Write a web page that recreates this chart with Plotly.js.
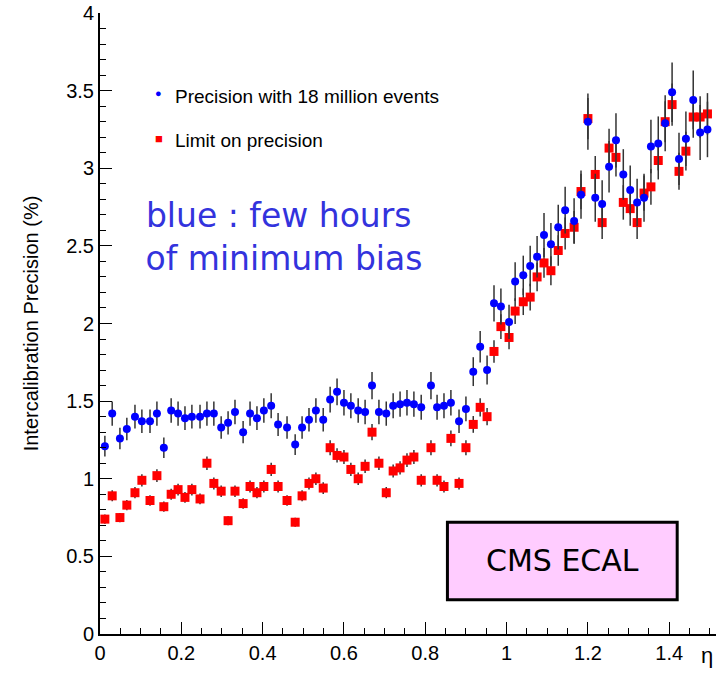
<!DOCTYPE html>
<html>
<head>
<script src="https://cdn.plot.ly/plotly-3.0.1.min.js"></script>
<style>body{margin:0;background:#fff}</style>
</head>
<body>
<div id="chart" style="width:728px;height:688px"></div>
<script>
// crystal eta positions
const eta = [0.012,0.030,0.049,0.066,0.086,0.103,0.123,0.140,0.157,0.175,0.192,0.209,0.226,0.246,0.263,0.280,0.298,0.315,0.332,0.352,
  0.369,0.386,0.403,0.421,0.438,0.460,0.480,0.497,0.514,0.531,0.549,0.566,0.583,0.600,0.617,0.635,0.652,0.669,0.686,0.704,
  0.721,0.738,0.755,0.772,0.790,0.814,0.829,0.846,0.863,0.883,0.900,0.918,0.935,0.952,0.969,0.986,1.006,1.021,1.041,1.058,
  1.075,1.092,1.109,1.127,1.144,1.166,1.183,1.200,1.218,1.235,1.252,1.269,1.287,1.304,1.321,1.338,1.355,1.373,1.390,1.407,
  1.424,1.441,1.459,1.476,1.494];
const precision = [1.21,1.42,1.26,1.32,1.40,1.37,1.37,1.42,1.20,1.44,1.42,1.39,1.40,1.40,1.42,1.42,1.33,1.36,1.43,1.30,
  1.42,1.39,1.44,1.47,1.35,1.33,1.22,1.33,1.38,1.44,1.38,1.51,1.56,1.49,1.47,1.44,1.43,1.60,1.43,1.42,
  1.47,1.48,1.49,1.48,1.46,1.60,1.46,1.47,1.49,1.37,1.45,1.69,1.85,1.70,2.13,2.11,2.01,2.27,2.31,2.37,
  2.43,2.57,2.51,2.62,2.73,2.66,2.83,3.30,2.81,2.77,3.01,3.18,2.96,2.86,2.78,2.81,3.14,3.16,3.29,3.49,
  3.06,3.19,3.44,3.23,3.25];
const limit = [0.74,0.89,0.75,0.83,0.91,0.99,0.86,1.02,0.82,0.90,0.93,0.88,0.93,0.87,1.10,0.97,0.92,0.73,0.92,0.84,
  0.95,0.91,0.95,1.06,0.95,0.86,0.72,0.89,0.97,1.00,0.94,1.20,1.15,1.14,1.06,1.00,1.08,1.30,1.10,0.91,
  1.05,1.07,1.12,1.14,0.99,1.20,0.99,0.95,1.26,0.97,1.20,1.35,1.46,1.40,1.82,1.98,1.91,2.08,2.14,2.17,
  2.30,2.39,2.34,2.47,2.58,2.62,2.85,3.32,2.96,2.65,3.13,3.07,2.78,2.74,2.65,2.84,2.88,3.05,3.30,3.41,
  2.98,3.11,3.33,3.33,3.35];

const font = 'Liberation Sans, Arial, sans-serif';

Plotly.newPlot('chart', [
  {
    x: eta, y: limit, type: 'scatter', mode: 'markers', name: 'Limit on precision',
    marker: {symbol: 'square', size: 9, color: '#ff0000'},
    error_y: {type: 'percent', value: 4, color: '#333', thickness: 1.5, width: 0}
  },
  {
    x: eta, y: precision, type: 'scatter', mode: 'markers', name: 'Precision with 18 million events',
    marker: {symbol: 'circle', size: 8, color: '#0000ff'},
    error_y: {type: 'percent', value: 5.5, color: '#333', thickness: 1.5, width: 0}
  }
], {
  width: 728, height: 688,
  margin: {l: 100, r: 12, t: 13, b: 54},
  paper_bgcolor: '#fff', plot_bgcolor: '#fff',
  font: {family: font, size: 20, color: '#000'},
  showlegend: false,
  xaxis: {
    range: [0, 1.515], tickvals: [0, 0.2, 0.4, 0.6, 0.8, 1, 1.2, 1.4],
    ticktext: ['0', '0.2', '0.4', '0.6', '0.8', '1', '1.2', '1.4'],
    ticks: 'inside', ticklen: 12, tickcolor: '#000',
    minor: {dtick: 0.05, ticks: 'inside', ticklen: 6, tickcolor: '#000'},
    showgrid: false, zeroline: false, showline: true, linecolor: '#000', linewidth: 2
  },
  yaxis: {
    range: [0, 4], dtick: 0.5, ticks: 'inside', ticklen: 12, tickcolor: '#000',
    minor: {dtick: 0.1, ticks: 'inside', ticklen: 6, tickcolor: '#000'},
    showgrid: false, zeroline: false, showline: true, linecolor: '#000', linewidth: 2,
    title: {text: 'Intercalibration Precision (%)', font: {size: 20}, standoff: 22}
  },
  shapes: [
    {type: 'rect', xref: 'paper', yref: 'paper', x0: 0.564, x1: 0.937, y0: 0.055, y1: 0.18,
     fillcolor: '#ffccff', line: {color: '#000', width: 3}}
  ],
  annotations: [
    {xref: 'paper', yref: 'paper', x: 0.095, y: 0.884, xanchor: 'center', text: '●', showarrow: false, font: {size: 11, color: '#0000ff'}},
    {xref: 'paper', yref: 'paper', x: 0.118, y: 0.886, xanchor: 'left', text: 'Precision with 18 million events', showarrow: false, font: {size: 19}},
    {xref: 'paper', yref: 'paper', x: 0.095, y: 0.813, xanchor: 'center', text: '■', showarrow: false, font: {size: 13, color: '#ff0000'}},
    {xref: 'paper', yref: 'paper', x: 0.118, y: 0.815, xanchor: 'left', text: 'Limit on precision', showarrow: false, font: {size: 19}},
    {xref: 'paper', yref: 'paper', x: 0.29, y: 0.64, xanchor: 'center', yanchor: 'middle', text: 'blue : few hours<br> of minimum bias', showarrow: false,
     align: 'center', font: {size: 33, color: '#3333dd', family: 'DejaVu Sans, sans-serif'}},
    {xref: 'paper', yref: 'paper', x: 0.75, y: 0.118, xanchor: 'center', yanchor: 'middle', text: 'CMS ECAL', showarrow: false,
     font: {size: 30, color: '#000', family: 'DejaVu Sans, sans-serif'}},
    {xref: 'paper', yref: 'paper', x: 0.985, y: -0.058, xanchor: 'center', text: 'η', showarrow: false, font: {size: 22}}
  ]
}, {displayModeBar: false});
</script>
</body>
</html>
